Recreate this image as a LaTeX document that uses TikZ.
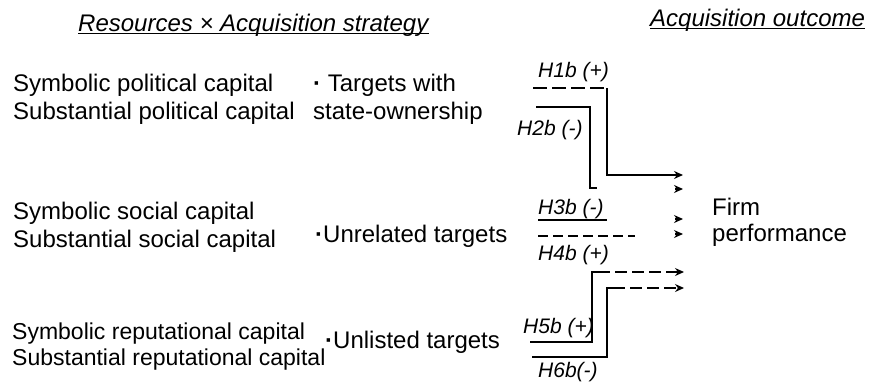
\documentclass[tikz,border=0pt]{standalone}
\usepackage{fontspec}
\setmainfont{Liberation Sans}
\usetikzlibrary{arrows.meta}
\begin{document}
\begin{tikzpicture}[x=1pt,y=-1pt,
  txt/.style={anchor=base west,inner sep=0pt,font=\fontsize{24}{28}\selectfont},
  txtb/.style={anchor=base west,inner sep=0pt,font=\fontsize{23}{27}\selectfont},
  hyp/.style={anchor=base west,inner sep=0pt,font=\fontsize{21}{24}\selectfont\itshape},
  head/.style={anchor=base west,inner sep=0pt,font=\fontsize{24}{28}\selectfont\itshape},
  ln/.style={line width=1.4pt},
  dsh/.style={ln,dash pattern=on 12pt off 5pt},
  tip/.style={-{Stealth[length=9pt,width=8pt]}},
  uline/.style={line width=1.3pt}]
\useasboundingbox (0,0) rectangle (870,386);

% headers
\node[head] (h1) at (78,31) {Resources × Acquisition strategy};
\draw[uline] ([yshift=-2.5pt]h1.base west) -- ([yshift=-2.5pt]h1.base east);
\node[head] (h2) at (650,26) {Acquisition outcome};
\draw[uline] ([yshift=-2.5pt]h2.base west) -- ([yshift=-2.5pt]h2.base east);

% resources
\node[txt] (p1) at (13,91) {Symbolic political capital};
\node[txt] (p2) at (13,119) {Substantial political capital};
\node[txt] (t1) at (313,91) {\textbf{·} Targets with};
\node[txt] (t2) at (313,119) {state-ownership};

\node[txt] (s1) at (13,219) {Symbolic social capital};
\node[txt] (s2) at (13,247) {Substantial social capital};
\node[txt] (t3) at (315,242) {\textbf{·}Unrelated targets};

\node[txtb] (r1) at (12,339) {Symbolic reputational capital};
\node[txtb] (r2) at (12,365) {Substantial reputational capital};
\node[txt] (t4) at (325,348) {\textbf{·}Unlisted targets};

% hypothesis labels
\node[hyp] (l1) at (538,77) {H1b (+)};
\node[hyp] (l2) at (517,135) {H2b (-)};
\node[hyp] (l3) at (538,214) {H3b (-)};
\node[hyp] (l4) at (538,260) {H4b (+)};
\node[hyp] (l5) at (523,333) {H5b (+)};
\node[hyp] (l6) at (538,377) {H6b(-)};

% outcome
\node[txt] (f1) at (712,215) {Firm};
\node[txt] (f2) at (712,241) {performance};

% coordinates
\coordinate (a1) at (533,88);  \coordinate (a2) at (607,88);  \coordinate (e1) at (683,175);
\coordinate (b1) at (536,107); \coordinate (b2) at (590,107); \coordinate (b3) at (597,188);
\coordinate (e2s) at (675,189); \coordinate (e2) at (683,189);
\coordinate (c1) at (538,220); \coordinate (c2) at (607,220);
\coordinate (e3s) at (675,219); \coordinate (e3) at (683,219);
\coordinate (d1) at (538,236); \coordinate (d2) at (635,236);
\coordinate (e4s) at (675,234); \coordinate (e4) at (683,234);
\coordinate (g1) at (530,342); \coordinate (g2) at (592,342); \coordinate (g3) at (592,272); \coordinate (g4) at (598,272);
\coordinate (e5) at (684,272);
\coordinate (k1) at (532,357); \coordinate (k2) at (607,357); \coordinate (k3) at (607,288); \coordinate (k4) at (613,288);
\coordinate (e6) at (684,288);

% connectors
\draw[dsh,dash pattern=on 14pt off 5pt] (a1) -- (a2);
\draw[ln,tip] (a2) |- (e1);
\draw[ln] (b1) -- (b2) |- (b3);
\draw[ln,tip] (e2s) -- (e2);
\draw[ln] (c1) -- (c2);
\draw[ln,tip] (e3s) -- (e3);
\draw[dsh,dash pattern=on 10pt off 5pt] (d1) -- (d2);
\draw[ln,tip] (e4s) -- (e4);
\draw[ln] (g1) -- (g2) -- (g3) -- (g4);
\draw[dsh,tip] (g4) -- (e5);
\draw[ln] (k1) -- (k2) -- (k3) -- (k4);
\draw[dsh,tip] (k4) -- (e6);
\end{tikzpicture}
\end{document}
